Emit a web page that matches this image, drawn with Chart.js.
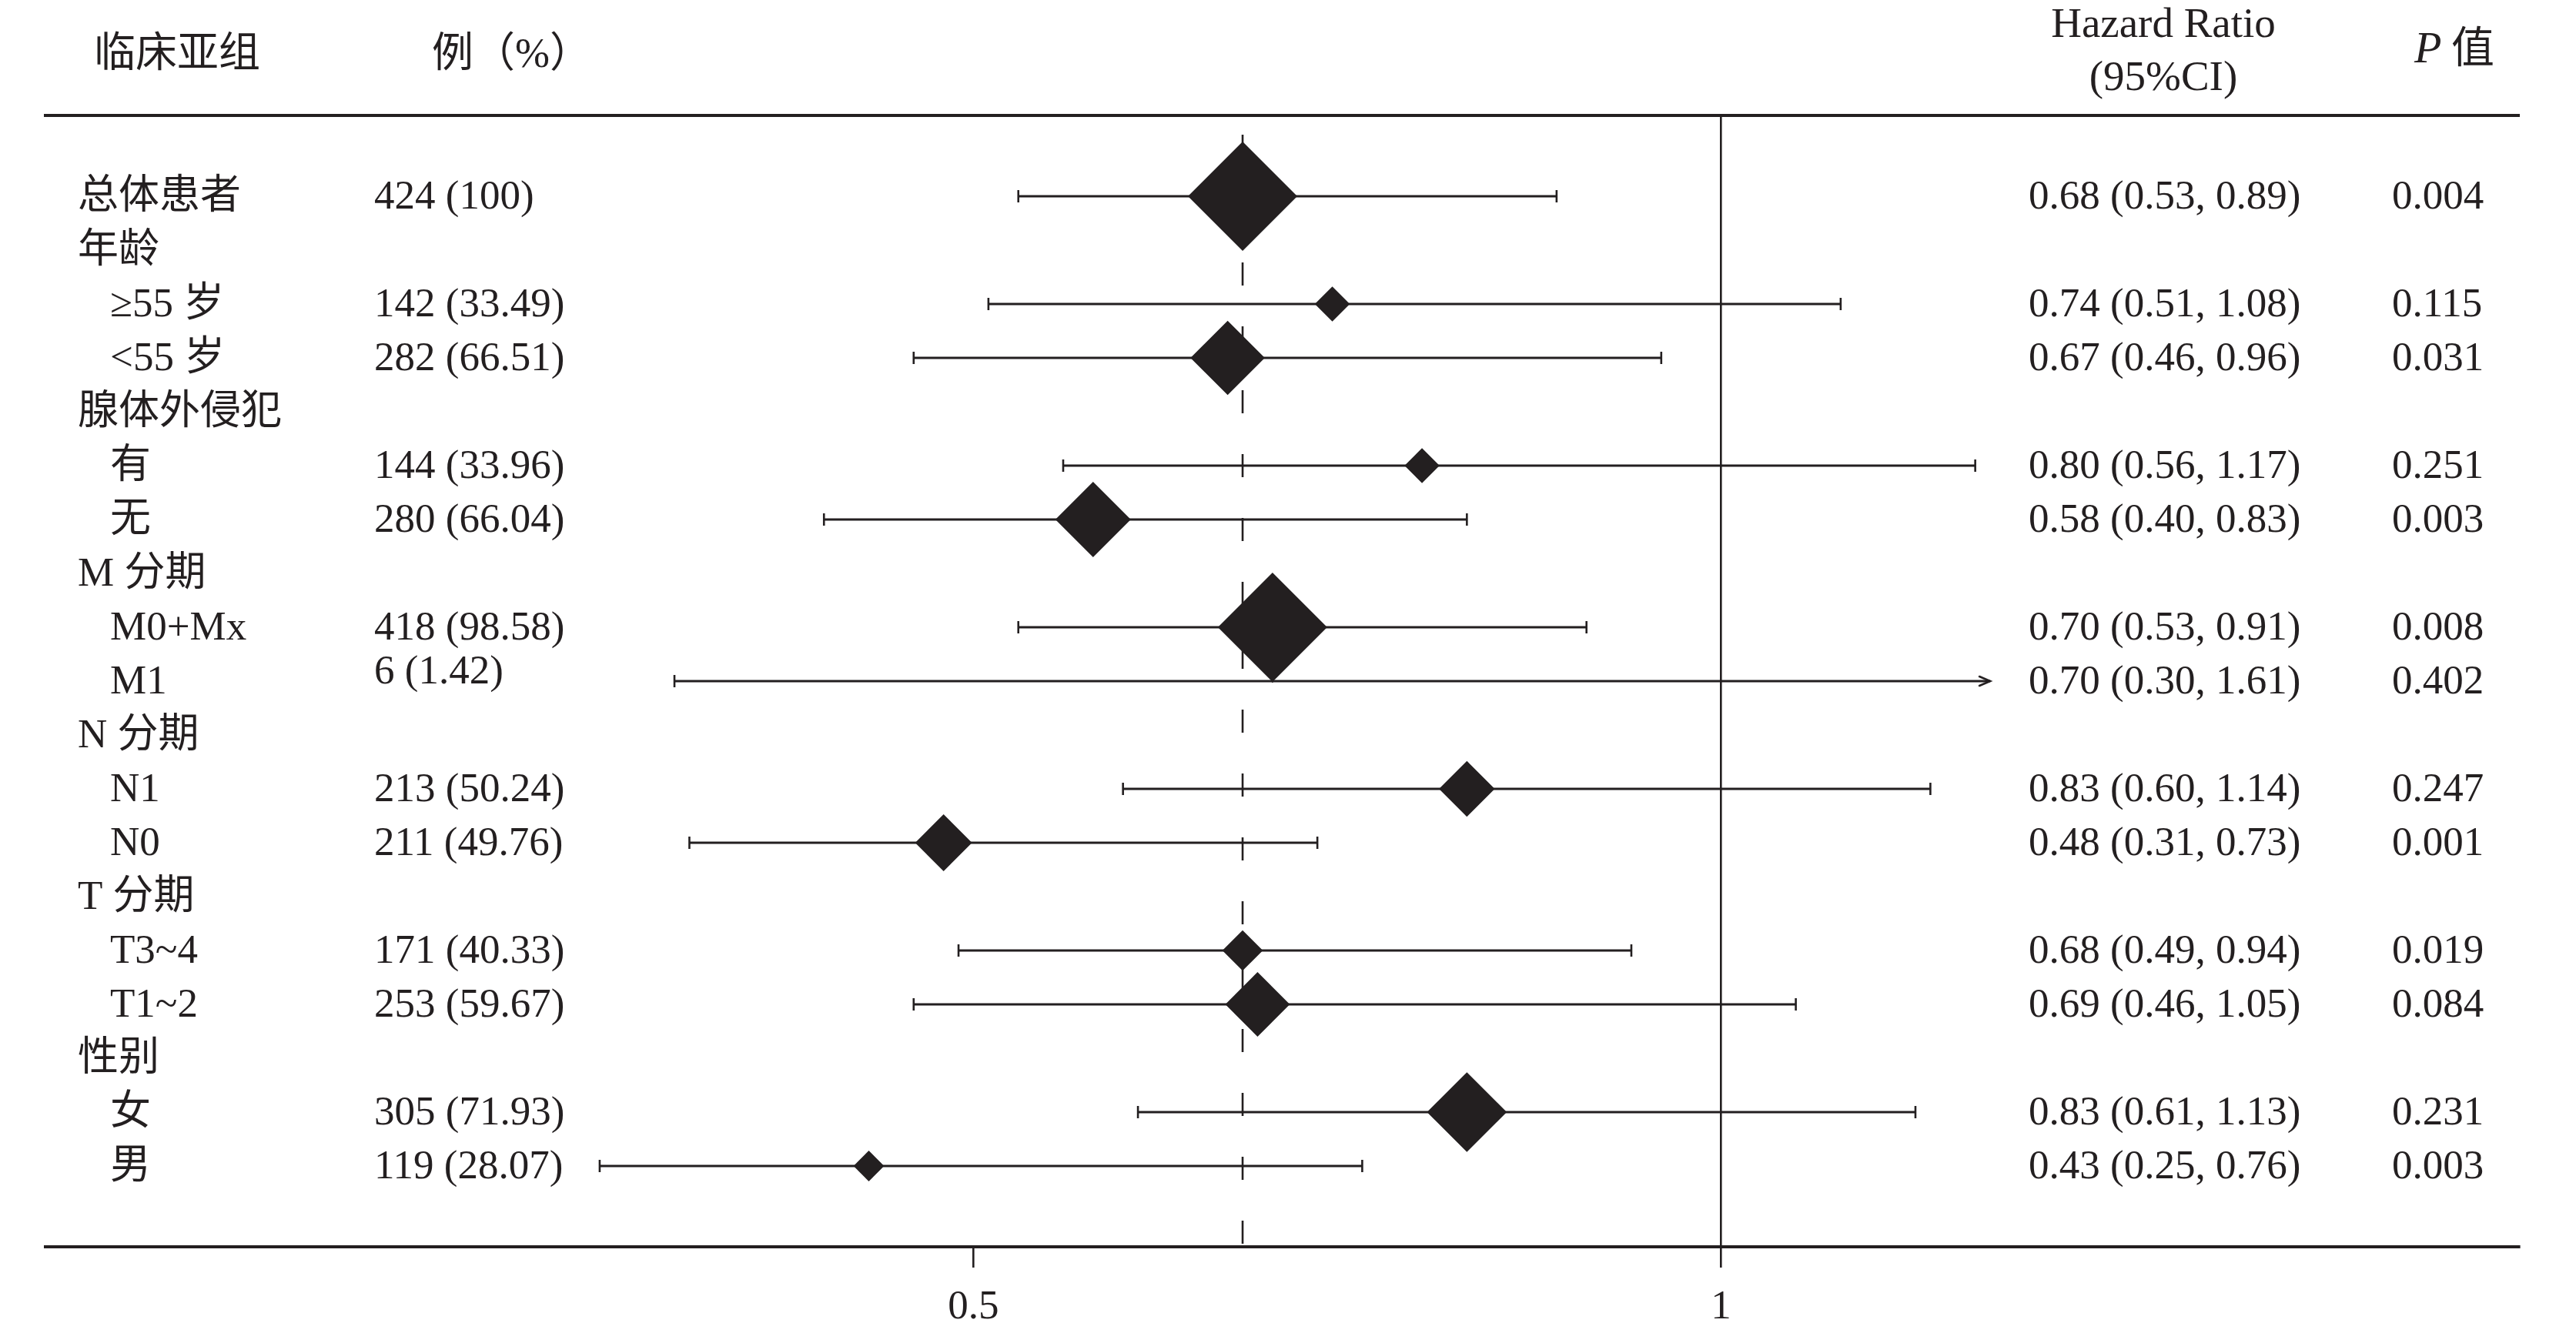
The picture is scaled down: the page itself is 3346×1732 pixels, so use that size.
<!DOCTYPE html>
<html>
<head>
<meta charset="utf-8">
<script src="https://cdn.jsdelivr.net/npm/chart.js@4.4.1/dist/chart.umd.min.js"></script>
<style>
  html, body { margin: 0; padding: 0; background: #ffffff; }
  canvas { display: block; }
</style>
</head>
<body>
<canvas id="forest" width="3346" height="1732"></canvas>
<script>
// ---------------- data ----------------
const headerSubgroup = '临床亚组';
const headerCases = '例（%）';
const headerHR = ['Hazard Ratio', '(95%CI)'];
const headerP = ['P', '值'];

const rowLabels = ['总体患者', '年龄', '≥55 岁', '<55 岁', '腺体外侵犯', '有', '无', 'M 分期', 'M0+Mx', 'M1',
                   'N 分期', 'N1', 'N0', 'T 分期', 'T3~4', 'T1~2', '性别', '女', '男'];
const rowLevel  = [0, 0, 1, 1, 0, 1, 1, 0, 1, 1, 0, 1, 1, 0, 1, 1, 0, 1, 1];
const caseCounts = ['424 (100)', '', '142 (33.49)', '282 (66.51)', '', '144 (33.96)', '280 (66.04)', '', '418 (98.58)', '6 (1.42)',
                    '', '213 (50.24)', '211 (49.76)', '', '171 (40.33)', '253 (59.67)', '', '305 (71.93)', '119 (28.07)'];
const hazardRatio = [0.68, null, 0.74, 0.67, null, 0.80, 0.58, null, 0.70, 0.70, null, 0.83, 0.48, null, 0.68, 0.69, null, 0.83, 0.43];
const ciLower     = [0.53, null, 0.51, 0.46, null, 0.56, 0.40, null, 0.53, 0.30, null, 0.60, 0.31, null, 0.49, 0.46, null, 0.61, 0.25];
const ciUpper     = [0.89, null, 1.08, 0.96, null, 1.17, 0.83, null, 0.91, 1.61, null, 1.14, 0.73, null, 0.94, 1.05, null, 1.13, 0.76];
const pValues     = ['0.004', '', '0.115', '0.031', '', '0.251', '0.003', '', '0.008', '0.402', '', '0.247', '0.001', '', '0.019', '0.084', '', '0.231', '0.003'];
// relative study weight (marker size, % of largest)
const studyWeight = [100, null, 32, 68, null, 32, 69, null, 100, 3, null, 51, 52, null, 37, 59, null, 73, 28];
const xTickValues = [0.5, 1];
const overallIndex = 0;

// ---------------- style / layout ----------------
const INK = '#231f20';
const SERIF = '"Liberation Serif", "Noto Sans CJK SC", serif';
const ciDisplayMax = 1.18;        // CIs beyond this are drawn as arrows
const maxMarkerRadius = 71;
const X_MIN = -0.1207, X_MAX = 1.5337;
const Y_MIN = -1.5, Y_MAX = 19.5;
const refLineTop = -1.143;
const col = { group: 101, sub: 143, cases: 486, hr: 2635, p: 3107 };
const casesNudge = { 9: -13 };

const dataRows = hazardRatio.map((v, i) => (v == null ? -1 : i)).filter(i => i >= 0);
const fmt = v => v.toFixed(2);

// chevron arrow head image (tip at centre)
const arrowImg = document.createElement('canvas');
arrowImg.width = 32; arrowImg.height = 18;
(function () {
  const g = arrowImg.getContext('2d');
  g.strokeStyle = INK; g.lineWidth = 2.6; g.lineCap = 'round'; g.lineJoin = 'miter';
  g.beginPath(); g.moveTo(2, 3); g.lineTo(16, 9); g.lineTo(2, 15); g.stroke();
})();

const tablePlugin = {
  id: 'forestTable',
  afterDraw(chart) {
    const ctx = chart.ctx;
    const ys = chart.scales.y;
    ctx.save();
    ctx.fillStyle = INK;
    ctx.textBaseline = 'alphabetic';
    ctx.textAlign = 'left';
    ctx.font = `53px ${SERIF}`;
    rowLabels.forEach((lab, i) => {
      const py = ys.getPixelForValue(i) + 16;
      ctx.fillText(lab, rowLevel[i] ? col.sub : col.group, py);
      if (caseCounts[i]) ctx.fillText(caseCounts[i], col.cases, py + (casesNudge[i] || 0));
      if (hazardRatio[i] != null) {
        ctx.fillText(`${fmt(hazardRatio[i])} (${fmt(ciLower[i])}, ${fmt(ciUpper[i])})`, col.hr, py);
      }
      if (pValues[i]) ctx.fillText(pValues[i], col.p, py);
    });
    // headers
    ctx.font = `54px ${SERIF}`;
    ctx.fillText(headerSubgroup, 122, 87);
    ctx.fillText(headerCases, 561, 87);
    ctx.textAlign = 'center';
    ctx.font = `55px ${SERIF}`;
    ctx.fillText(headerHR[0], 2810, 48);
    ctx.fillText(headerHR[1], 2810, 117);
    ctx.textAlign = 'left';
    ctx.font = `italic 58px ${SERIF}`;
    ctx.fillText(headerP[0], 3136, 81);
    ctx.font = `56px ${SERIF}`;
    ctx.fillText(headerP[1], 3184, 81);
    ctx.restore();
  }
};

// CI segments: one break (null point) between rows
const ciSegments = [];
dataRows.forEach(i => {
  ciSegments.push({ x: ciLower[i], y: i });
  ciSegments.push({ x: Math.min(ciUpper[i], ciDisplayMax), y: i });
  ciSegments.push({ x: null, y: null });
});
const lowCaps = dataRows.map(i => ({ x: ciLower[i], y: i }));
const highCaps = dataRows.filter(i => ciUpper[i] <= ciDisplayMax).map(i => ({ x: ciUpper[i], y: i }));
const arrows = dataRows.filter(i => ciUpper[i] > ciDisplayMax).map(i => ({ x: ciDisplayMax, y: i }));
const points = dataRows.map(i => ({ x: hazardRatio[i], y: i, w: studyWeight[i] }));

new Chart(document.getElementById('forest'), {
  type: 'scatter',
  data: {
    datasets: [
      {
        label: 'overall HR',
        showLine: true,
        data: [{ x: hazardRatio[overallIndex], y: refLineTop }, { x: hazardRatio[overallIndex], y: Y_MAX }],
        borderColor: INK, borderWidth: 2.6, borderDash: [30, 53], borderCapStyle: 'butt',
        pointRadius: 0, fill: false, order: 5
      },
      {
        label: '95% CI',
        showLine: true,
        spanGaps: false,
        data: ciSegments,
        borderColor: INK, borderWidth: 3, borderCapStyle: 'butt',
        pointRadius: 0, fill: false, order: 4
      },
      {
        label: 'CI lower cap',
        data: lowCaps,
        pointStyle: 'line', rotation: 90, pointRadius: 8,
        borderColor: INK, borderWidth: 2.6, order: 3
      },
      {
        label: 'CI upper cap',
        data: highCaps,
        pointStyle: 'line', rotation: 90, pointRadius: 8,
        borderColor: INK, borderWidth: 2.6, order: 3
      },
      {
        label: 'CI beyond range',
        data: arrows,
        pointStyle: arrowImg, pointRadius: 9, order: 3
      },
      {
        label: 'Hazard ratio',
        data: points,
        pointStyle: 'rectRot',
        pointRadius: c => (c.raw ? Math.max(1, c.raw.w / 100 * maxMarkerRadius) : 0),
        backgroundColor: INK, borderColor: INK, borderWidth: 0, order: 1
      }
    ]
  },
  options: {
    responsive: false,
    animation: false,
    devicePixelRatio: 1,
    events: [],
    layout: { autoPadding: false, padding: { left: 59, right: 74, top: 0, bottom: 0 } },
    plugins: { legend: { display: false }, tooltip: { enabled: false } },
    scales: {
      x: {
        type: 'linear', position: 'bottom', min: X_MIN, max: X_MAX, offset: false,
        afterBuildTicks: s => { s.ticks = xTickValues.map(v => ({ value: v })); },
        afterFit: s => { s.height = 112; },
        grid: {
          display: true, drawOnChartArea: true, drawTicks: true, offset: false,
          color: c => (c.tick && c.tick.value === 1 ? INK : 'rgba(0,0,0,0)'),
          lineWidth: 2.6, tickColor: INK, tickWidth: 2.6, tickLength: 27
        },
        border: { display: true, color: INK, width: 4 },
        ticks: {
          color: INK, padding: 20,
          font: { family: '"Liberation Serif", serif', size: 53 },
          callback: v => String(v)
        }
      },
      xTop: {
        type: 'linear', position: 'top', axis: 'x', min: X_MIN, max: X_MAX, offset: false,
        afterFit: s => { s.height = 150; },
        grid: { display: false },
        ticks: { display: false },
        border: { display: true, color: INK, width: 4 }
      },
      y: { type: 'linear', reverse: true, min: Y_MIN, max: Y_MAX, offset: false, display: false }
    }
  },
  plugins: [tablePlugin]
});
</script>
</body>
</html>
